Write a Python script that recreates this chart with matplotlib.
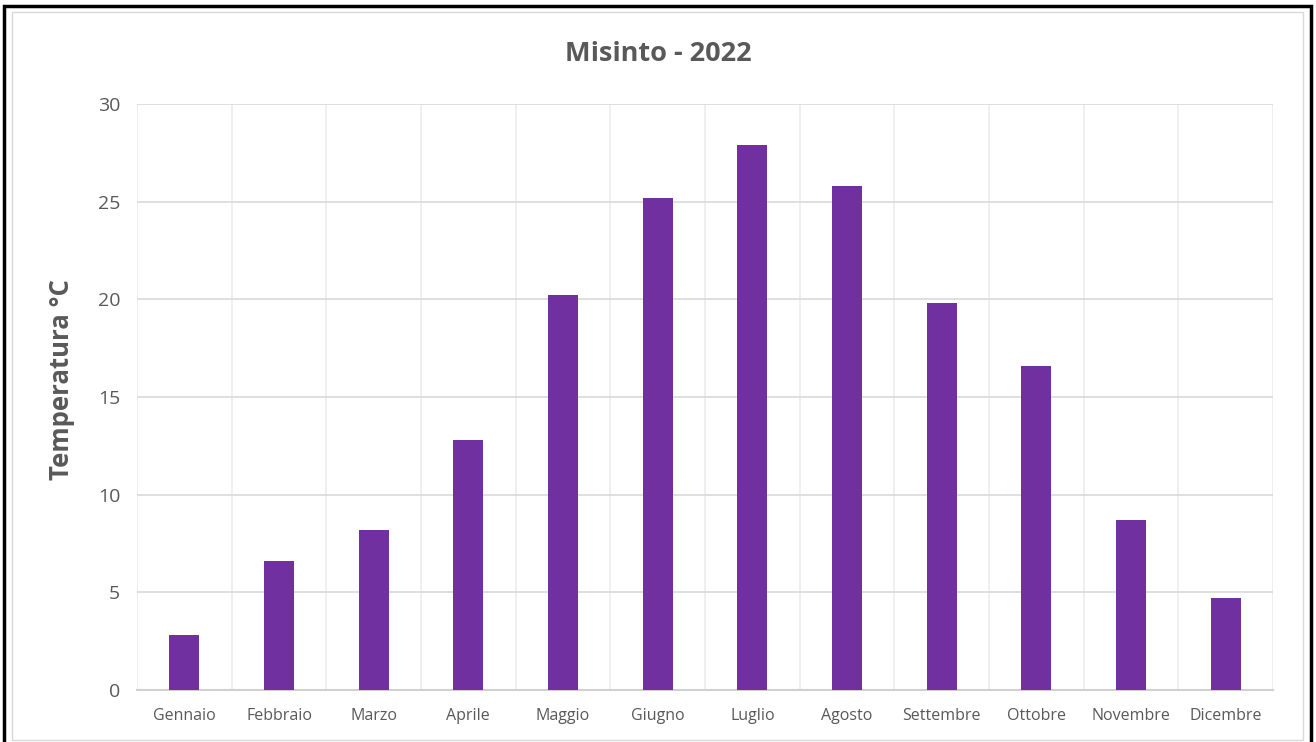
import numpy as np
import matplotlib.pyplot as plt
from matplotlib.patches import Rectangle

# dati
mesi = ['Gennaio', 'Febbraio', 'Marzo', 'Aprile', 'Maggio', 'Giugno',
        'Luglio', 'Agosto', 'Settembre', 'Ottobre', 'Novembre', 'Dicembre']
temperature = [2.8, 6.6, 8.2, 12.8, 20.2, 25.2, 27.9, 25.8, 19.8, 16.6, 8.7, 4.7]
y_ticks = [0, 5, 10, 15, 20, 25, 30]

plt.rcParams['font.family'] = ['Open Sans', 'DejaVu Sans']

W, H = 1316, 742
fig = plt.figure(figsize=(W / 100, H / 100), dpi=100)

# cornice esterna nera e bordo grigio del grafico
fig.patches.append(Rectangle((4 / W, -0.05), (1311 - 4) / W, 1.05 - 6 / H,
                             transform=fig.transFigure, fill=False,
                             edgecolor='black', linewidth=2.5))
fig.patches.append(Rectangle((12 / W, 2 / H), (1303 - 12) / W, 1 - 14 / H,
                             transform=fig.transFigure, fill=False,
                             edgecolor='#d9d9d9', linewidth=1))

ax = fig.add_axes([137 / W, 52 / H, (1273 - 137) / W, (690 - 104) / H])

x = np.arange(len(mesi))
ax.bar(x, temperature, width=0.32, color='#7030A0', zorder=3)

ax.set_xlim(-0.5, len(mesi) - 0.5)
ax.set_ylim(0, 30)
ax.set_yticks(y_ticks)
ax.set_xticks(x)
ax.set_xticklabels(mesi, fontsize=11.5, color='#595959')
ax.tick_params(axis='y', labelsize=14, labelcolor='#595959', length=0, pad=12)
ax.tick_params(axis='x', length=0, pad=13)

# griglia
ax.set_xticks(np.arange(-0.5, len(mesi), 0.5), minor=True)
ax.tick_params(axis='x', which='minor', length=0)
ax.grid(axis='x', which='minor', color='#ececec', linewidth=1.2, zorder=0)
ax.grid(axis='y', which='major', color='#d9d9d9', linewidth=1.2, zorder=0)

for s in ['top', 'right', 'left']:
    ax.spines[s].set_visible(False)
ax.spines['bottom'].set_color('#d0d0d0')
ax.spines['bottom'].set_linewidth(1.5)

ax.set_ylabel('Temperatura °C', fontsize=18.5, fontweight='bold', color='#595959')
ax.yaxis.set_label_coords(-0.055, 0.53)
fig.text(0.5, (742 - 54) / H, 'Misinto - 2022', ha='center', va='center',
         fontsize=19.5, fontweight='bold', color='#595959')

plt.savefig('out.png', dpi=100)
plt.close()
